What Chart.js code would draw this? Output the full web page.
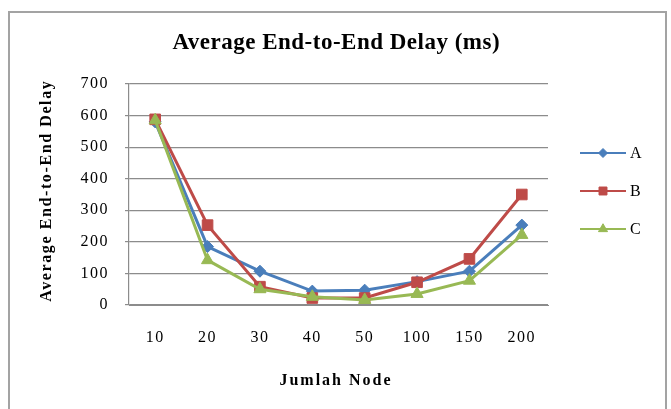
<!DOCTYPE html>
<html>
<head>
<meta charset="utf-8">
<script src="https://cdn.jsdelivr.net/npm/chart.js@4/dist/chart.umd.min.js"></script>
<style>
  html, body { margin: 0; padding: 0; background: #ffffff; }
  #wrap { width: 671px; height: 409px; position: relative; }
</style>
</head>
<body>
<div id="wrap"><canvas id="c" width="671" height="409"></canvas></div>
<script>
// ---- data ----
const categories = ['10', '20', '30', '40', '50', '100', '150', '200'];
const seriesNames = ['A', 'B', 'C'];
const seriesA = [580, 185, 107, 44, 47, 74, 107, 253];
const seriesB = [588, 253, 58, 22, 22, 72, 146, 350];
const seriesC = [585, 142, 50, 26, 16, 35, 77, 222];
const yTickMin = 0;
const yTickMax = 700;
const yTickStep = 100;
const chartTitle = 'Average End-to-End Delay (ms)';
const xTitle = 'Jumlah Node';
const yTitle = 'Average End-to-End Delay';

// ---- styles ----
const colors = ['#4A7EBB', '#BE4B48', '#98B954'];
const markers = ['rectRot', 'rect', 'triangle'];
const markerRadius = [6, 7.5, 7];
const serif = '"Liberation Serif", "Times New Roman", serif';

const CHART_LEFT = 129, CHART_RIGHT = 548, CHART_TOP = 84, CHART_BOTTOM = 305;
const W = 671, H = 409;

function spacedText(ctx, text, x, y, font, spacing, align) {
  ctx.save();
  ctx.font = font;
  ctx.letterSpacing = spacing + 'px';
  ctx.textAlign = align || 'center';
  ctx.textBaseline = 'middle';
  ctx.fillStyle = '#000000';
  ctx.fillText(text, x + (align === 'left' ? 0 : spacing / 2), y);
  ctx.restore();
}

const decorPlugin = {
  id: 'decor',
  beforeDraw(chart) {
    const ctx = chart.ctx;
    ctx.save();
    ctx.fillStyle = '#ffffff';
    ctx.fillRect(0, 0, W, H);
    ctx.strokeStyle = '#a3a3a3';
    ctx.lineWidth = 2;
    ctx.strokeRect(9, 12, 657, 430);
    ctx.restore();
    ctx.letterSpacing = '1.5px';
  },
  afterDraw(chart) {
    const ctx = chart.ctx;
    const area = chart.chartArea;
    // title
    spacedText(ctx, chartTitle, 336, 43, 'bold 23px ' + serif, 0.5);
    // x title
    spacedText(ctx, xTitle, 335, 381, 'bold 16px ' + serif, 2);
    // y title (rotated)
    ctx.save();
    ctx.translate(47, (area.top + area.bottom) / 2 - 3);
    ctx.rotate(-Math.PI / 2);
    spacedText(ctx, yTitle, 0, 0, 'bold 16px ' + serif, 1.6);
    ctx.restore();
    // legend
    const ys = [153, 191, 229];
    chart.data.datasets.forEach((ds, i) => {
      const y = ys[i];
      ctx.save();
      ctx.strokeStyle = ds.borderColor;
      ctx.lineWidth = 2;
      ctx.beginPath();
      ctx.moveTo(580, y);
      ctx.lineTo(626, y);
      ctx.stroke();
      ctx.fillStyle = ds.borderColor;
      ctx.strokeStyle = ds.borderColor;
      ctx.lineWidth = 1;
      Chart.helpers.drawPoint(ctx, { pointStyle: ds.pointStyle, radius: ds.pointRadius * 0.75, borderWidth: 1, rotation: 0 }, 603, y);
      ctx.restore();
      spacedText(ctx, ds.label, 630, y + 1, '16px ' + serif, 0.5, 'left');
    });
  }
};

const seriesValues = [seriesA, seriesB, seriesC];
const datasets = seriesNames.map((name, i) => ({
  label: name,
  data: seriesValues[i],
  borderColor: colors[i],
  backgroundColor: colors[i],
  borderWidth: 3,
  pointStyle: markers[i],
  pointRadius: markerRadius[i],
  pointHoverRadius: markerRadius[i],
  pointBorderWidth: 1,
  pointBorderColor: colors[i],
  pointBackgroundColor: colors[i],
  tension: 0,
  order: 3 - i
}));

new Chart(document.getElementById('c'), {
  type: 'line',
  data: { labels: categories, datasets: datasets },
  options: {
    responsive: false,
    animation: false,
    devicePixelRatio: 1,
    layout: { padding: { left: 0, top: CHART_TOP, right: W - CHART_RIGHT, bottom: 0 } },
    plugins: { legend: { display: false }, title: { display: false }, tooltip: { enabled: false } },
    scales: {
      x: {
        type: 'category',
        offset: true,
        afterFit(scale) { scale.height = H - CHART_BOTTOM; },
        grid: { display: false, drawTicks: false },
        border: { display: true, color: '#8c8c8c', width: 1 },
        ticks: { color: '#000000', font: { family: serif, size: 16 }, padding: 23, maxRotation: 0, autoSkip: false }
      },
      y: {
        min: yTickMin,
        max: yTickMax,
        afterFit(scale) { scale.width = CHART_LEFT; },
        grid: { color: '#8c8c8c', lineWidth: 1.2, drawTicks: true, tickLength: 4 },
        border: { display: true, color: '#8c8c8c', width: 1.2 },
        ticks: { stepSize: yTickStep, color: '#000000', font: { family: serif, size: 16 }, padding: 16 }
      }
    }
  },
  plugins: [decorPlugin]
});
</script>
</body>
</html>
